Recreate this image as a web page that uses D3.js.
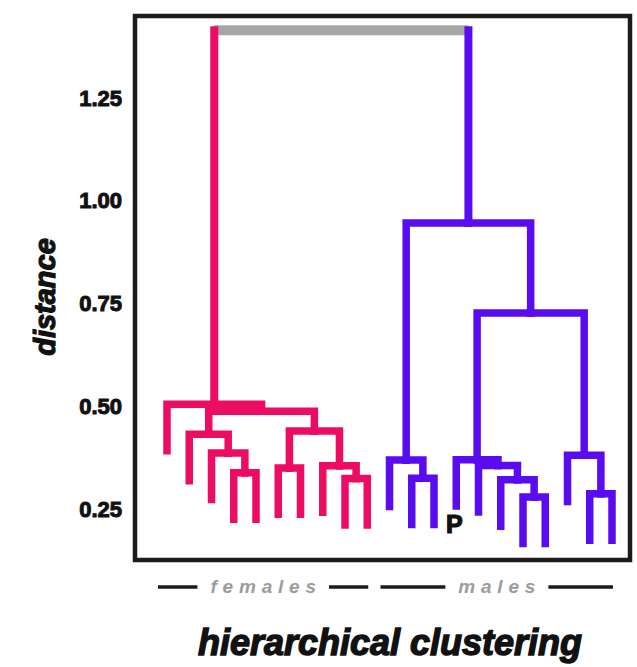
<!DOCTYPE html>
<html><head><meta charset="utf-8">
<script src="https://cdn.jsdelivr.net/npm/d3@7"></script>
<style>
body{margin:0;background:#fff;}
svg{display:block;}
text{font-family:"Liberation Sans",Arial,sans-serif;}
</style>
</head><body>
<svg id="chart" width="637" height="667"></svg>
<script>
// ---- data ----
const leafNames = ["f1","f2","f3","f4","f5","f6","f7","f8","f9","f10",
                   "m1","m2","m3","m4","m5","m6","m7","m8","m9","m10","m11"];
const leafGroups = ["females","females","females","females","females","females","females","females","females","females",
                    "males","males","males","males","males","males","males","males","males","males","males"];
// hclust-style merge table: negative = leaf (1-based), positive = earlier merge row
const mergeLeft  = [-17, -20, -16, -12, -9, -4, -6, -8, -15, -11, -14, -19, -3, -2,  7, 14, -1, 11, 10, 17];
const mergeRight = [-18, -21,   1, -13,-10, -5, -7,  5,   3,   4,   9,   2,  6, 13,  8, 15, 16, 12, 18, 19];
const mergeHeights = [0.279, 0.287, 0.321, 0.325, 0.324, 0.338, 0.350, 0.355, 0.356, 0.369,
                      0.370, 0.381, 0.386, 0.432, 0.440, 0.488, 0.505, 0.727, 0.946, 1.415];
const tickValues = [0.25, 0.50, 0.75, 1.00, 1.25];
const groupNames = ["females", "males"];
const groupColors = ["#ec0c63", "#5a0cf0"];
const hang = 0.113;
const leafNotes = [{leaf: "m4", text: "P"}];
const yTitle = "distance";
const chartTitle = "hierarchical clustering";

// ---- layout ----
const svg = d3.select("#chart");
const frame = {left: 135, top: 16, right: 630, bottom: 560};
const x = d3.scalePoint().domain(leafNames).range([167, 612]);
const y = d3.scaleLinear().domain([0.25, 1.25]).range([509, 98]);
const color = d3.scaleOrdinal().domain(groupNames).range(groupColors);

function build(ref) {
  if (ref < 0) { const i = -ref - 1; return {name: leafNames[i], group: leafGroups[i]}; }
  return {height: mergeHeights[ref - 1],
          children: [build(mergeLeft[ref - 1]), build(mergeRight[ref - 1])]};
}
const root = d3.hierarchy(build(mergeHeights.length));
root.eachAfter(n => {
  if (!n.children) { n.px = x(n.data.name); }
  else { n.px = d3.mean(n.children, c => c.px); n.h = n.data.height; }
});
root.each(n => { if (!n.children) n.h = n.parent.h - hang; });
root.each(n => {
  if (n.depth >= 1) {
    const top = n.ancestors().find(a => a.depth === 1);
    n.grp = top.leaves()[0].data.group;
  }
});

// frame
svg.append("rect")
  .attr("x", frame.left).attr("y", frame.top)
  .attr("width", frame.right - frame.left).attr("height", frame.bottom - frame.top)
  .attr("fill", "none").attr("stroke", "#1b1b1b").attr("stroke-width", 4.5);

// root bar (gray)
const rc = root.children;
svg.append("line")
  .attr("x1", rc[0].px).attr("x2", rc[1].px)
  .attr("y1", y(root.h)).attr("y2", y(root.h))
  .attr("stroke", "#a6a6a6").attr("stroke-width", 10);

// links
const links = root.descendants().filter(n => n.parent);
svg.append("g").selectAll("path").data(links).join("path")
  .attr("d", n => n.parent === root
      ? `M${n.px},${y(n.h)}V${y(n.parent.h)}`
      : `M${n.px},${y(n.h)}V${y(n.parent.h)}H${n.parent.px}`)
  .attr("fill", "none")
  .attr("stroke", n => color(n.grp))
  .attr("stroke-width", n => n.parent === root ? 8 : 7.5)
  .attr("stroke-linecap", "square")
  .attr("stroke-linejoin", "miter");

// leaf notes
const leafByName = new Map(root.leaves().map(l => [l.data.name, l]));
svg.append("g").selectAll("text").data(leafNotes).join("text")
  .attr("x", d => leafByName.get(d.leaf).px - 2)
  .attr("y", d => y(leafByName.get(d.leaf).h) + 27)
  .attr("text-anchor", "middle")
  .attr("font-size", 25).attr("font-weight", "bold").attr("fill", "#111")
  .attr("stroke", "#111").attr("stroke-width", 1.2)
  .text(d => d.text);

// y axis
const axis = svg.append("g").attr("transform", `translate(${frame.left},0)`)
  .call(d3.axisLeft(y).tickValues(tickValues).tickFormat(d3.format(".2f")).tickSize(0).tickPadding(13));
axis.select(".domain").remove();
axis.selectAll("text")
  .attr("font-size", 22).attr("font-weight", "bold").attr("fill", "#111")
  .attr("stroke", "#111").attr("stroke-width", 1)
  .style("font-family", "'Liberation Sans', Arial, sans-serif");

// y title
svg.append("text")
  .attr("transform", "translate(55,297) rotate(-90)")
  .attr("text-anchor", "middle")
  .attr("font-size", 29).attr("font-weight", "bold").attr("font-style", "italic")
  .attr("fill", "#111").attr("stroke", "#111").attr("stroke-width", 1.2)
  .text(yTitle);

// group labels
groupNames.forEach(g => {
  const ls = root.leaves().filter(l => l.data.group === g);
  const s0 = ls[0].px - 9, s1 = ls[ls.length - 1].px + 1;
  const t = svg.append("text")
    .attr("x", (s0 + s1) / 2 + 3).attr("y", 593)
    .attr("text-anchor", "middle")
    .attr("font-size", 19).attr("font-weight", "bold").attr("font-style", "italic")
    .attr("letter-spacing", 5.8)
    .attr("fill", "#9c9c9c")
    .text(g);
  const bb = t.node().getBBox();
  const gap = 13;
  const tx0 = bb.x, tx1 = bb.x + bb.width - 5.8;
  svg.append("line").attr("x1", s0).attr("x2", tx0 - gap).attr("y1", 587).attr("y2", 587)
    .attr("stroke", "#1b1b1b").attr("stroke-width", 3.5);
  svg.append("line").attr("x1", tx1 + gap).attr("x2", s1).attr("y1", 587).attr("y2", 587)
    .attr("stroke", "#1b1b1b").attr("stroke-width", 3.5);
});

// title
svg.append("text")
  .attr("x", 390).attr("y", 655)
  .attr("text-anchor", "middle")
  .attr("font-size", 36).attr("font-weight", "bold").attr("font-style", "italic")
  .attr("fill", "#111").attr("stroke", "#111").attr("stroke-width", 1.4)
  .text(chartTitle);
</script>
</body></html>
